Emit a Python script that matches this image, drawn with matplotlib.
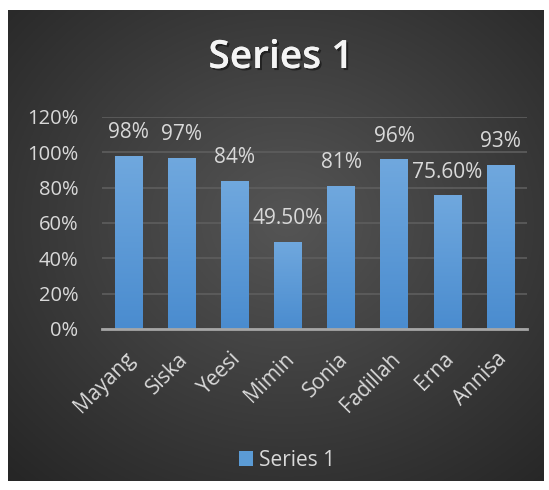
import numpy as np
import matplotlib
matplotlib.use("Agg")
import matplotlib.pyplot as plt
import matplotlib.patheffects as pe
import matplotlib.transforms as mtransforms
from matplotlib.colors import LinearSegmentedColormap

categories = ["Mayang", "Siska", "Yeesi", "Mimin", "Sonia", "Fadillah", "Erna", "Annisa"]
values = [0.98, 0.97, 0.84, 0.495, 0.81, 0.96, 0.756, 0.93]
value_labels = ["98%", "97%", "84%", "49.50%", "81%", "96%", "75.60%", "93%"]
yticks = [0, 0.2, 0.4, 0.6, 0.8, 1.0, 1.2]
ytick_labels = ["0%", "20%", "40%", "60%", "80%", "100%", "120%"]
series_name = "Series 1"

plt.rcParams['font.family'] = ['Open Sans', 'DejaVu Sans']
W, H = 549, 490
fig = plt.figure(figsize=(W/100, H/100), dpi=100, facecolor="white")

# background panel with radial gradient
bg = fig.add_axes([8/W, 1 - 481/H, 536/W, 471/H])
bg.set_axis_off()
yy, xx = np.mgrid[0:1:300j, 0:1:300j]
r = np.sqrt(((xx - 0.52) / 0.75) ** 2 + ((yy - 0.45) / 0.75) ** 2)
r = np.clip(r, 0, 1)
c0 = np.array([0x55, 0x55, 0x55]) / 255
c1 = np.array([0x26, 0x26, 0x26]) / 255
img = c0[None, None, :] * (1 - r[..., None]) + c1[None, None, :] * r[..., None]
bg.imshow(img, extent=[0, 1, 0, 1], aspect="auto", origin="upper")
bg.set_xlim(0, 1); bg.set_ylim(0, 1)

ax = fig.add_axes([102/W, 1 - 329/H, (527 - 102)/W, (329 - 117)/H])
ax.set_facecolor("none")
x = np.arange(len(categories))
bars = ax.bar(x, values, width=0.52, color="#5b9bd5", zorder=3, label=series_name)

grad = np.linspace(0, 1, 256).reshape(-1, 1)
cmap = LinearSegmentedColormap.from_list("b", ["#4a8ccf", "#70a8de"])
for b in bars:
    bx, by = b.get_x(), b.get_y()
    bw, bh = b.get_width(), b.get_height()
    im = ax.imshow(grad, extent=[bx, bx + bw, by, by + bh], origin="lower",
                   cmap=cmap, aspect="auto", zorder=3.5)
    im.set_clip_path(b)

ax.set_xlim(-0.5, len(categories) - 0.5)
ax.set_ylim(0, 1.2)
ax.set_yticks(yticks)
ax.set_yticklabels(ytick_labels)
ax.grid(axis="y", color="#5e5e5e", linewidth=1.2, zorder=0)
ax.set_axisbelow(True)
for s in ["top", "right", "left"]:
    ax.spines[s].set_visible(False)
ax.spines["bottom"].set_color("#a6a6a6")
ax.spines["bottom"].set_linewidth(2)
ax.spines["bottom"].set_zorder(5)
ax.tick_params(axis="both", length=0, colors="#d9d9d9", labelsize=14.5)
ax.tick_params(axis="y", pad=17)
ax.set_xticks(x)
ax.set_xticklabels(categories, rotation=45, ha="right", va="top",
                   rotation_mode="anchor", color="#d9d9d9", fontsize=15)
ax.tick_params(axis="x", pad=14)
shift = mtransforms.ScaledTranslation(-4/100, 0, fig.dpi_scale_trans)
for lbl in ax.get_xticklabels():
    lbl.set_transform(lbl.get_transform() + shift)

for xi, v, lab in zip(x, values, value_labels):
    ax.annotate(lab, (xi, v), xytext=(0, 9), textcoords="offset points",
                ha="center", va="bottom", color="#d9d9d9", fontsize=15, zorder=6)

fig.text(281/W, 1 - 58/H, series_name, ha="center", va="center", fontsize=28,
         fontweight="semibold", color="#f4f4f4",
         path_effects=[pe.withSimplePatchShadow(offset=(1.5, -1.5), shadow_rgbFace="black", alpha=0.45), pe.Normal()])

leg = fig.legend(handles=[bars], labels=[series_name], loc="center",
                 bbox_to_anchor=(287/W, 1 - 460/H), frameon=False,
                 fontsize=15, labelcolor="#d9d9d9", handlelength=0.7, handleheight=0.7,
                 handletextpad=0.3)

fig.savefig("out.png", dpi=100, facecolor="white")
